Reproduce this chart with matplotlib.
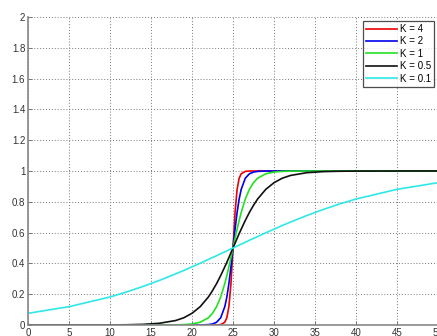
import matplotlib
matplotlib.use("Agg")
import matplotlib.pyplot as plt

# x sample positions
x = [0, 5, 10, 12, 14, 16, 18, 19, 20, 21, 22, 22.5, 23, 23.5, 24, 24.25, 24.5, 24.75,
     25, 25.25, 25.5, 25.75, 26, 26.5, 27, 27.5, 28, 29, 30, 31, 32, 34, 36, 38, 40, 45, 50]

y_k4 = [0, 0, 0, 0, 0, 0, 0, 0, 0, 0, 0, 0.0000, 0.0003, 0.0025, 0.018, 0.047, 0.119, 0.269,
        0.5, 0.731, 0.881, 0.953, 0.982, 0.9975, 0.9997, 1, 1, 1, 1, 1, 1, 1, 1, 1, 1, 1, 1]
y_k2 = [0, 0, 0, 0, 0, 0, 0, 0, 0.00005, 0.0003, 0.0025, 0.0067, 0.018, 0.047, 0.119, 0.182, 0.269, 0.378,
        0.5, 0.622, 0.731, 0.818, 0.881, 0.953, 0.982, 0.993, 0.9975, 0.9997, 1, 1, 1, 1, 1, 1, 1, 1, 1]
y_k1 = [0, 0, 0, 0.000002, 0.000017, 0.00012, 0.0009, 0.0025, 0.0067, 0.018, 0.047, 0.076, 0.119, 0.182, 0.269, 0.321, 0.378, 0.438,
        0.5, 0.562, 0.622, 0.679, 0.731, 0.818, 0.881, 0.924, 0.953, 0.982, 0.9933, 0.9975, 0.9991, 0.9999, 1, 1, 1, 1, 1]
y_k05 = [0.000004, 0.000045, 0.00055, 0.0015, 0.0041, 0.011, 0.029, 0.047, 0.076, 0.119, 0.182, 0.223, 0.269, 0.321, 0.378, 0.407, 0.438, 0.469,
         0.5, 0.531, 0.562, 0.593, 0.622, 0.679, 0.731, 0.777, 0.818, 0.881, 0.924, 0.953, 0.971, 0.989, 0.996, 0.9985, 0.9994, 1.0, 1.0]
y_k01 = [0.076, 0.119, 0.182, 0.214, 0.250, 0.289, 0.332, 0.354, 0.378, 0.401, 0.426, 0.438, 0.450, 0.463, 0.475, 0.481, 0.488, 0.494,
         0.5, 0.506, 0.512, 0.519, 0.525, 0.537, 0.550, 0.562, 0.574, 0.599, 0.622, 0.646, 0.668, 0.711, 0.750, 0.786, 0.818, 0.881, 0.924]

labels = ["K = 4", "K = 2", "K = 1", "K = 0.5", "K = 0.1"]
colors = ["#ee0000", "#0000ee", "#22e022", "#111111", "#2ee8e8"]
series = [y_k4, y_k2, y_k1, y_k05, y_k01]

x_ticks = [0, 5, 10, 15, 20, 25, 30, 35, 40, 45, 50]
y_ticks = [0, 0.2, 0.4, 0.6, 0.8, 1, 1.2, 1.4, 1.6, 1.8, 2]

plt.rcParams['font.family'] = ['Liberation Sans', 'DejaVu Sans']
fig = plt.figure(figsize=(4.37, 3.36), dpi=100)
ax = fig.add_axes([28/437, 11/336, 410/437, 308/336])

for ys, c, lab in zip(series, colors, labels):
    ax.plot(x, ys, color=c, lw=1.2, label=lab)

ax.set_xlim(0, 50)
ax.set_ylim(0, 2)
ax.set_xticks(x_ticks)
ax.set_yticks(y_ticks)
ax.set_xticklabels([str(t) for t in x_ticks])
ax.set_yticklabels(["0", "0.2", "0.4", "0.6", "0.8", "1", "1.2", "1.4", "1.6", "1.8", "2"])
ax.grid(True, linestyle=(0, (1, 2)), color="#777777", lw=0.7)
ax.tick_params(direction="in", length=3, width=0.6, colors="#666666", labelcolor="#333333",
               labelsize=7, pad=2)
for s in ["top", "right"]:
    ax.spines[s].set_visible(False)
for s in ["left", "bottom"]:
    ax.spines[s].set_color("#888888")
    ax.spines[s].set_linewidth(1.2)

leg = ax.legend(loc="upper right", fontsize=7, frameon=True, fancybox=False,
                edgecolor="#222222", handlelength=3.2, handletextpad=0.3,
                labelspacing=0.25, borderpad=0.3, borderaxespad=0.0,
                bbox_to_anchor=(434/437 - 28/437, 1 - (21 - 17) / 308),
                bbox_transform=fig.transFigure)
leg.get_frame().set_linewidth(0.9)
leg.set_bbox_to_anchor((434/437, (336 - 21)/336), transform=fig.transFigure)

fig.savefig("out.png", dpi=100)
